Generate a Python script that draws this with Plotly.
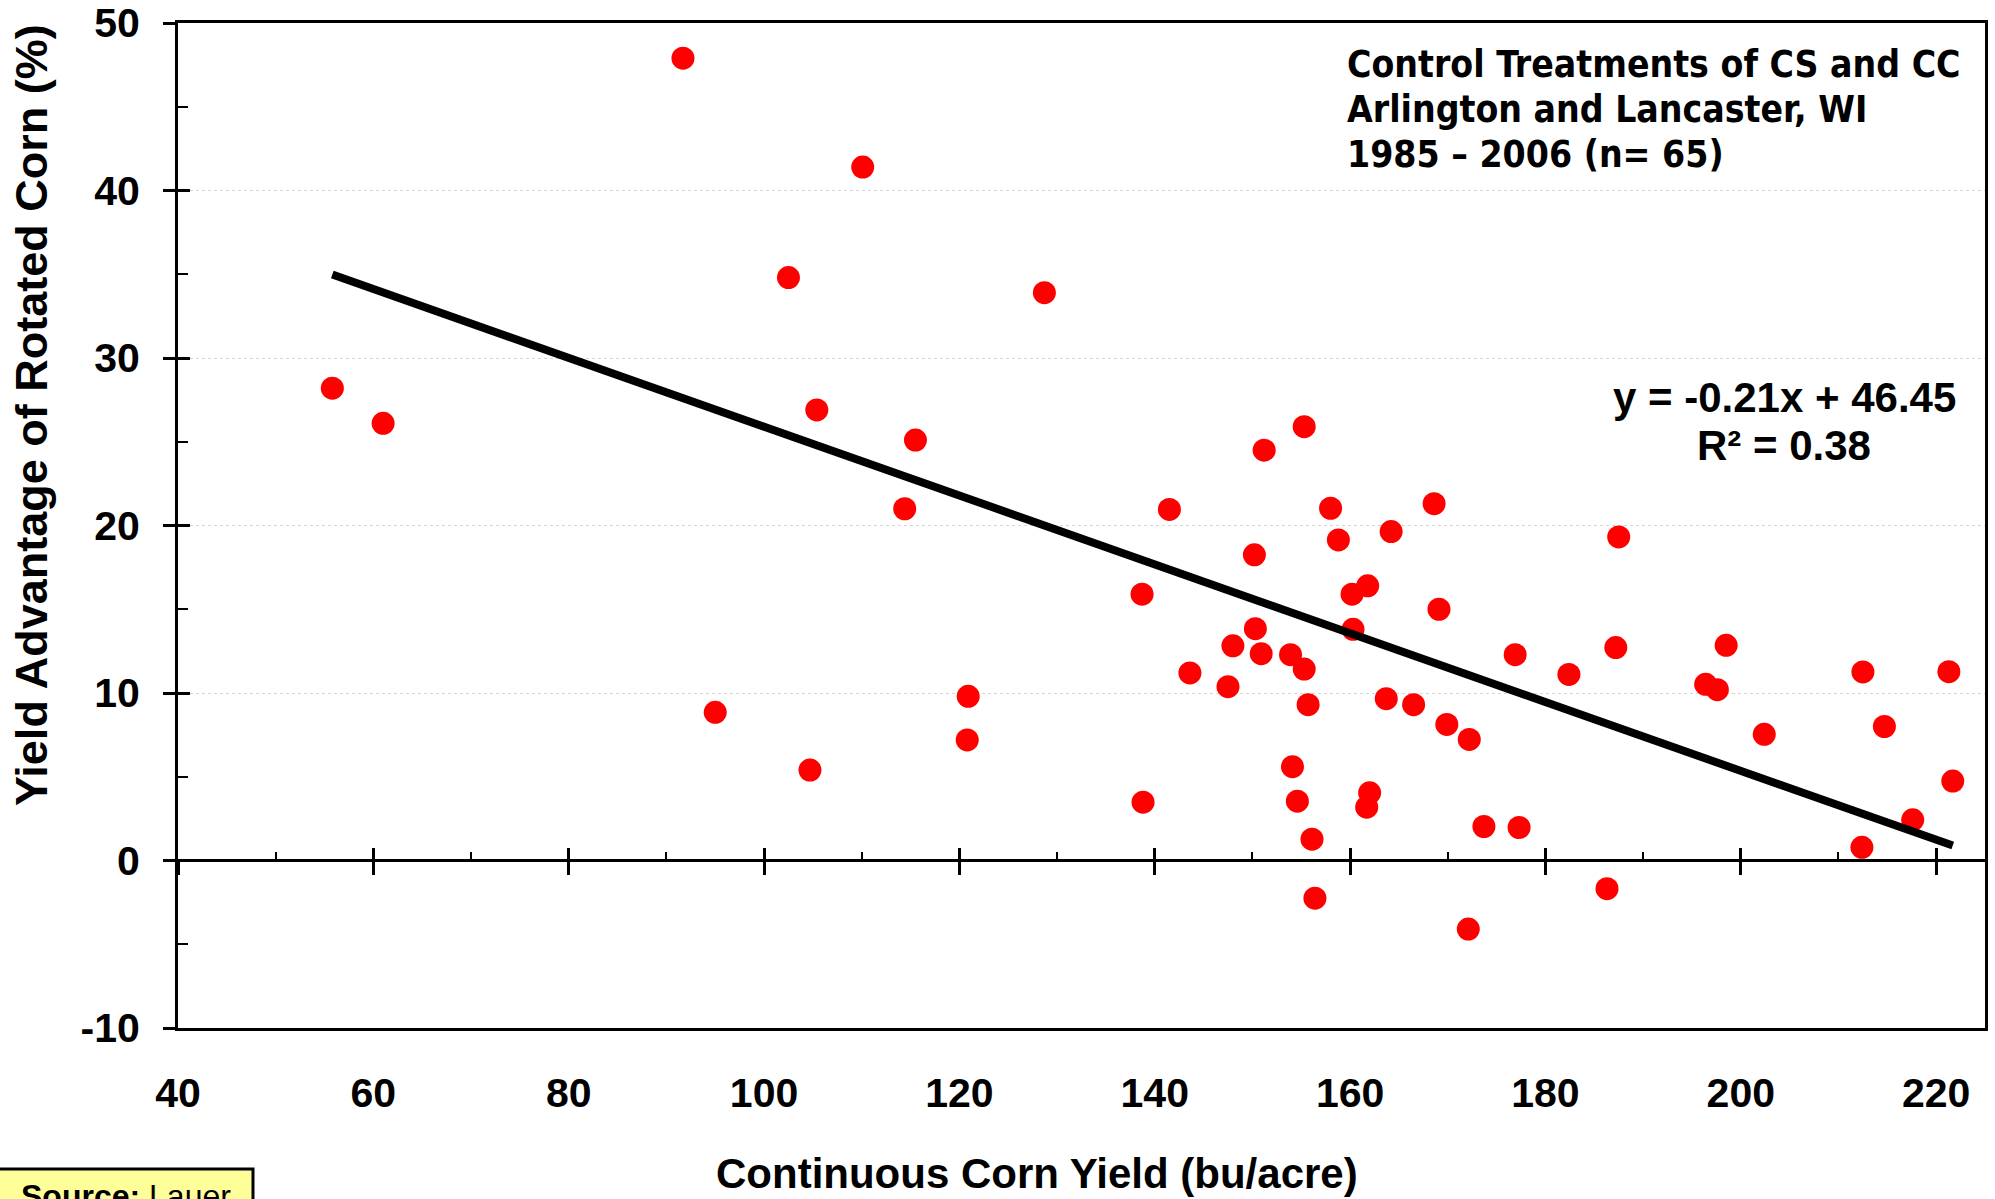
import plotly.graph_objects as go

# ---------------- data ----------------
corn_yield = [55.8, 61.0, 91.7, 95.0, 102.5, 104.7, 105.4, 110.1, 114.4, 115.5,
              120.9, 120.8, 128.7, 138.7, 138.8, 141.5, 143.6, 147.5, 148.0, 150.2,
              150.3, 150.9, 151.2, 153.9, 154.1, 154.6, 155.3, 155.3, 155.7, 156.1,
              156.4, 158.0, 158.8, 160.2, 160.3, 161.8, 162.0, 161.7, 163.7, 164.2,
              166.5, 168.6, 169.1, 169.9, 172.1, 172.2, 173.7, 176.9, 177.3, 182.4,
              186.3, 187.2, 187.5, 196.4, 197.6, 198.5, 202.4, 212.5, 212.4, 214.7,
              217.6, 221.3, 221.7]
yield_advantage = [28.2, 26.1, 47.9, 8.85, 34.8, 5.4, 26.9, 41.4, 21.0, 25.1,
                   9.8, 7.2, 33.9, 15.9, 3.48, 20.96, 11.2, 10.38, 12.82, 18.25,
                   13.84, 12.35, 24.5, 12.29, 5.6, 3.54, 11.43, 25.9, 9.3, 1.27,
                   -2.25, 21.03, 19.14, 15.9, 13.8, 16.4, 4.04, 3.18, 9.66, 19.64,
                   9.3, 21.3, 15.0, 8.12, -4.09, 7.23, 2.03, 12.29, 1.97, 11.11,
                   -1.68, 12.71, 19.32, 10.52, 10.2, 12.85, 7.53, 11.26, 0.79, 8.0,
                   2.43, 11.27, 4.74]
fit_slope = -0.2055
fit_intercept = 46.45
fit_r2 = 0.38

x_range = [40, 225]
y_range = [-10, 50]
x_ticks = [40, 60, 80, 100, 120, 140, 160, 180, 200, 220]
y_ticks = [-10, 0, 10, 20, 30, 40, 50]

title_lines = ["Control Treatments of CS and CC",
               "Arlington and Lancaster, WI",
               "1985 \u2013 2006 (n= 65)"]
x_title = "Continuous Corn Yield (bu/acre)"
y_title = "Yield Advantage of Rotated Corn (%)"
source_label = "Source:"
source_name = "Lauer"

# ---------------- layout geometry ----------------
W, H = 1995, 1199
ML, MR, MT, MB = 178, 10, 23, 171
PW, PH = W - ML - MR, H - MT - MB


def px(X):
    return (X - ML) / PW


def py(Y):
    return (H - MB - Y) / PH


x_minor = [v + 10 for v in x_ticks[:-1]] + [x_ticks[-1] + 10]
y_minor = [v + 5 for v in y_ticks[:-1]]
zero_pos = (0 - y_range[0]) / (y_range[1] - y_range[0])

ARIAL = "Liberation Sans, Arial, sans-serif"
CONDENSED = "DejaVu Sans Condensed, DejaVu Sans, sans-serif"

fig = go.Figure()

fit_x = [min(corn_yield), max(corn_yield)]
fit_y = [fit_slope * v + fit_intercept for v in fit_x]

fig.add_trace(go.Scatter(x=corn_yield, y=yield_advantage, mode="markers",
                         marker=dict(color="#FF0000", size=23, line=dict(width=0)),
                         showlegend=False))
fig.add_trace(go.Scatter(x=fit_x, y=fit_y, mode="lines",
                         line=dict(color="black", width=8), showlegend=False))
# helper (empty) traces so the overlay tick axes are drawn
fig.add_trace(go.Scatter(x=[], y=[], xaxis="x2", yaxis="y", showlegend=False))
fig.add_trace(go.Scatter(x=[], y=[], xaxis="x3", yaxis="y", showlegend=False))
fig.add_trace(go.Scatter(x=[], y=[], xaxis="x", yaxis="y2", showlegend=False))

tickfont = dict(family=ARIAL, size=41, color="black", weight="bold")

fig.update_layout(
    template="none",
    width=W, height=H,
    margin=dict(l=ML, r=MR, t=MT, b=MB, autoexpand=False),
    paper_bgcolor="white", plot_bgcolor="white",
    showlegend=False,
    xaxis=dict(range=x_range, tickvals=x_ticks, ticktext=[str(v) for v in x_ticks],
               ticks="", showline=True, automargin=False,
               linecolor="black", linewidth=3, mirror=True, showgrid=False,
               zeroline=False, tickfont=tickfont, ticklabelstandoff=27),
    xaxis2=dict(range=x_range, overlaying="x", anchor="free", position=zero_pos,
                tickvals=x_ticks, ticks="outside", ticklen=13, tickwidth=2.5,
                tickcolor="black", showticklabels=False, showline=False,
                showgrid=False, zeroline=False, automargin=False),
    xaxis3=dict(range=x_range, overlaying="x", anchor="free", position=zero_pos,
                tickvals=x_ticks, ticks="inside", ticklen=13, tickwidth=2.5,
                tickcolor="black", showticklabels=False, showline=False,
                showgrid=False, zeroline=False, automargin=False,
                minor=dict(tickvals=x_minor, ticks="inside", ticklen=9,
                           tickwidth=2, tickcolor="black", showgrid=False)),
    yaxis=dict(range=y_range, tickvals=y_ticks, ticktext=[str(v) for v in y_ticks],
               ticks="outside", ticklen=12, automargin=False,
               tickwidth=2.5, tickcolor="black", showline=True, linecolor="black",
               linewidth=3, mirror=True, showgrid=True, gridcolor="#d6d6d6",
               gridwidth=1, griddash="dot", zeroline=True, zerolinecolor="black",
               zerolinewidth=3, tickfont=tickfont, ticklabelstandoff=15),
    yaxis2=dict(range=y_range, overlaying="y", anchor="x", side="left",
                tickvals=y_ticks, ticks="inside", ticklen=12, tickwidth=2.5,
                tickcolor="black", showticklabels=False, showline=False,
                showgrid=False, zeroline=False, automargin=False,
                minor=dict(tickvals=y_minor, ticks="inside", ticklen=10,
                           tickwidth=2, tickcolor="black", showgrid=False)),
)

annotations = []
for line_text, yc in zip(title_lines, [64, 109, 154]):
    annotations.append(dict(text=line_text, x=px(1345), y=py(yc), xref="paper",
                            yref="paper", xanchor="left", yanchor="middle",
                            align="left", showarrow=False,
                            font=dict(family=CONDENSED, size=37, color="black",
                                      weight="bold")))
annotations += [
    dict(text=f"y = {fit_slope:.2f}x + {fit_intercept:.2f}", x=px(1784), y=py(398),
         xref="paper", yref="paper", xanchor="center", yanchor="middle",
         showarrow=False, font=dict(family=ARIAL, size=42, color="black", weight="bold")),
    dict(text=f"R\u00b2 = {fit_r2:.2f}", x=px(1784), y=py(445),
         xref="paper", yref="paper", xanchor="center", yanchor="middle",
         showarrow=False, font=dict(family=ARIAL, size=42, color="black", weight="bold")),
    dict(text=y_title, x=px(32), y=py(415), xref="paper", yref="paper",
         xanchor="center", yanchor="middle", textangle=-90, showarrow=False,
         font=dict(family=ARIAL, size=45, color="black", weight="bold")),
    dict(text=x_title, x=px(1037), y=py(1173), xref="paper", yref="paper",
         xanchor="center", yanchor="middle", showarrow=False,
         font=dict(family=ARIAL, size=42, color="black", weight="bold")),
    dict(text=f"<b>{source_label}</b> {source_name}", x=px(19), y=py(1176),
         xref="paper", yref="paper", xanchor="left", yanchor="top", align="left",
         showarrow=False, font=dict(family=ARIAL, size=32, color="black")),
]
fig.update_layout(annotations=annotations)

fig.add_shape(type="rect", xref="paper", yref="paper", x0=px(-10), x1=px(253),
              y0=py(1169), y1=py(1240), fillcolor="#FFFF99",
              line=dict(color="black", width=3), layer="below")

fig.write_html("out.html")
